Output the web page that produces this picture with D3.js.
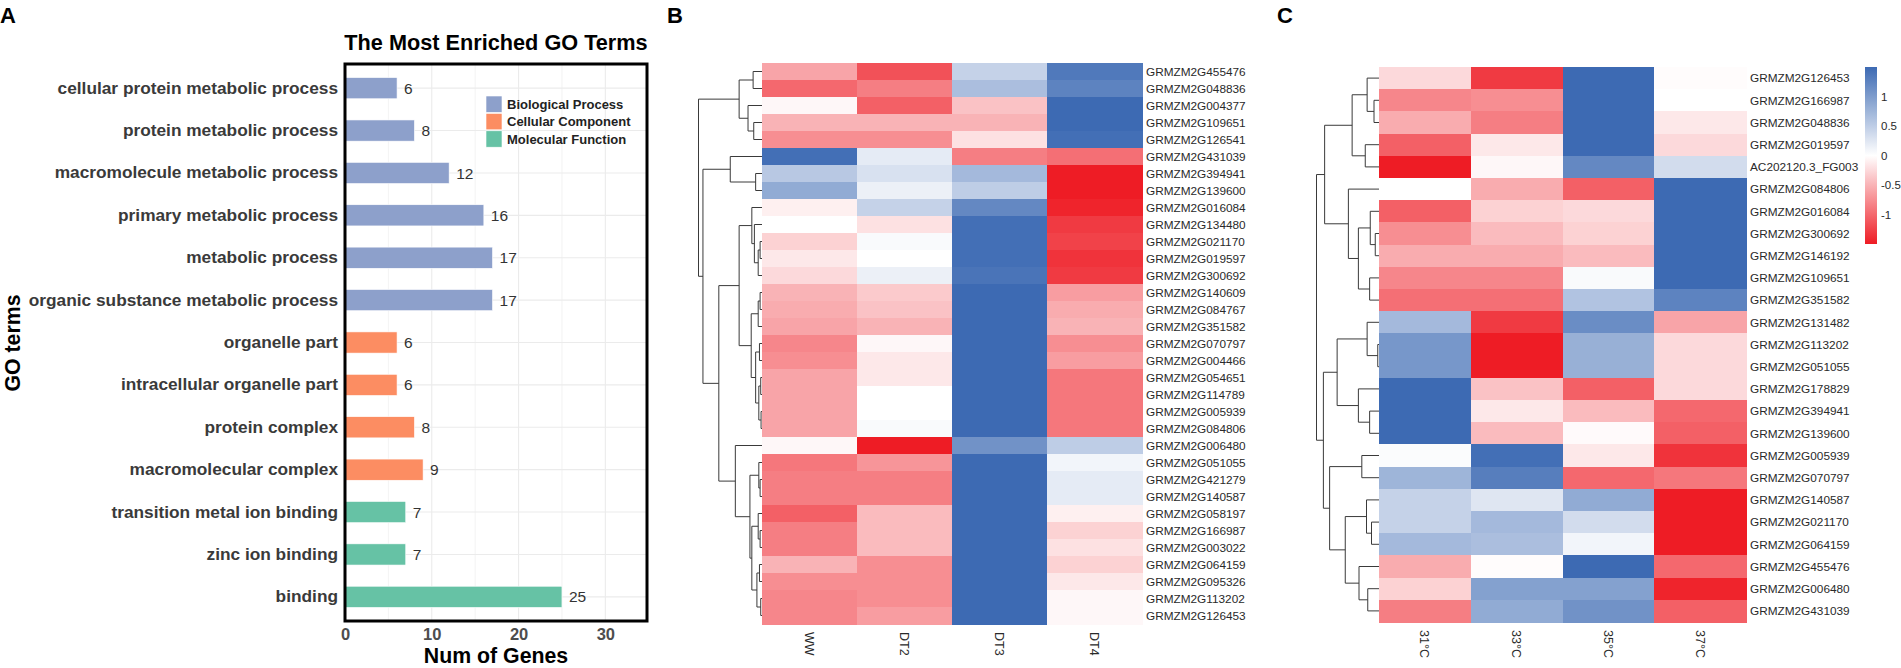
<!DOCTYPE html>
<html lang="en">
<head>
<meta charset="UTF-8">
<title>GO terms and expression heatmaps</title>
<script src="https://cdn.jsdelivr.net/npm/d3@7"></script>
<style>
  body { margin: 0; background: #fff; }
  text { font-family: "Liberation Sans", Arial, sans-serif; }
</style>
</head>
<body>
<svg width="1901" height="668"></svg>
<script>
// ---- panel A data ----
var goTerms = ["cellular protein metabolic process", "protein metabolic process",
  "macromolecule metabolic process", "primary metabolic process", "metabolic process",
  "organic substance metabolic process", "organelle part", "intracellular organelle part",
  "protein complex", "macromolecular complex", "transition metal ion binding",
  "zinc ion binding", "binding"];
var goCounts = [6, 8, 12, 16, 17, 17, 6, 6, 8, 9, 7, 7, 25];
var goClass = ["BP", "BP", "BP", "BP", "BP", "BP", "CC", "CC", "CC", "CC", "MF", "MF", "MF"];
var classNames = ["Biological Process", "Cellular Component", "Molecular Function"];
var classKeys = ["BP", "CC", "MF"];
var classColors = ["#8DA0CB", "#FC8D62", "#66C2A5"];
var countTicks = [0, 10, 20, 30];

// ---- panel B data ----
var bGenes = ["GRMZM2G455476", "GRMZM2G048836", "GRMZM2G004377", "GRMZM2G109651", "GRMZM2G126541",
  "GRMZM2G431039", "GRMZM2G394941", "GRMZM2G139600", "GRMZM2G016084", "GRMZM2G134480",
  "GRMZM2G021170", "GRMZM2G019597", "GRMZM2G300692", "GRMZM2G140609", "GRMZM2G084767",
  "GRMZM2G351582", "GRMZM2G070797", "GRMZM2G004466", "GRMZM2G054651", "GRMZM2G114789",
  "GRMZM2G005939", "GRMZM2G084806", "GRMZM2G006480", "GRMZM2G051055", "GRMZM2G421279",
  "GRMZM2G140587", "GRMZM2G058197", "GRMZM2G166987", "GRMZM2G003022", "GRMZM2G064159",
  "GRMZM2G095326", "GRMZM2G113202", "GRMZM2G126453"];
var bConds = ["WW", "DT2", "DT3", "DT4"];
var bWW  = [-0.6, -1.0, -0.05, -0.5, -0.75, 1.45, 0.55, 0.85, -0.1, 0, -0.3, -0.15, -0.25, -0.5, -0.55, -0.6,
  -0.8, -0.75, -0.6, -0.6, -0.6, -0.6, -0.05, -0.9, -0.85, -0.85, -1.05, -0.85, -0.85, -0.5, -0.75, -0.8, -0.8];
var bDT2 = [-1.15, -0.85, -1.05, -0.5, -0.75, 0.2, 0.3, 0.15, 0.45, -0.2, 0.05, 0, 0.15, -0.35, -0.4, -0.5,
  -0.05, -0.15, -0.15, 0, 0, 0.05, -1.5, -0.7, -0.85, -0.85, -0.45, -0.45, -0.45, -0.75, -0.75, -0.75, -0.65];
var bDT3 = [0.45, 0.65, -0.4, -0.5, -0.2, -0.85, 0.7, 0.5, 1.2, 1.45, 1.45, 1.45, 1.4, 1.5, 1.5, 1.5,
  1.5, 1.5, 1.5, 1.5, 1.5, 1.5, 1.1, 1.5, 1.5, 1.5, 1.5, 1.5, 1.5, 1.5, 1.5, 1.5, 1.5];
var bDT4 = [1.35, 1.25, 1.5, 1.5, 1.45, -0.95, -1.5, -1.5, -1.45, -1.3, -1.25, -1.35, -1.3, -0.65, -0.55, -0.5,
  -0.75, -0.65, -0.9, -0.9, -0.9, -0.9, 0.5, 0.1, 0.2, 0.2, -0.1, -0.3, -0.2, -0.3, -0.15, -0.05, -0.05];
// dendrogram: [height, left, right], leaves are row indexes
var bTree = [10,
  [3.6, [1.4, 0, 1], [2.2, 2, [1.3, 3, 4]]],
  [9.3,
    [5.0, 5, [1.0, 6, 7]],
    [6.8,
      [3.6,
        [1.6, 8, [1.2, 9, [0.6, [0.3, 10, 11], 12]]],
        [1.7, [0.6, [0.3, 13, 14], 15], [1.0, [0.4, 16, 17], [0.5, [0.2, 18, 19], [0.15, 20, 21]]]]],
      [4.2, 22,
        [1.9, [0.5, 23, [0.3, 24, 25]],
          [1.6, [0.6, 26, [0.3, 27, 28]], [0.8, [0.4, 29, 30], [0.2, 31, 32]]]]]]]];

// ---- panel C data ----
var cGenes = ["GRMZM2G126453", "GRMZM2G166987", "GRMZM2G048836", "GRMZM2G019597", "AC202120.3_FG003",
  "GRMZM2G084806", "GRMZM2G016084", "GRMZM2G300692", "GRMZM2G146192", "GRMZM2G109651",
  "GRMZM2G351582", "GRMZM2G131482", "GRMZM2G113202", "GRMZM2G051055", "GRMZM2G178829",
  "GRMZM2G394941", "GRMZM2G139600", "GRMZM2G005939", "GRMZM2G070797", "GRMZM2G140587",
  "GRMZM2G021170", "GRMZM2G064159", "GRMZM2G455476", "GRMZM2G006480", "GRMZM2G431039"];
var cConds = ["31°C", "33°C", "35°C", "37°C"];
var c31 = [-0.25, -0.8, -0.55, -1.05, -1.5, 0, -1.05, -0.75, -0.55, -0.8, -0.95, 0.7, 1.05,
  1.05, 1.5, 1.5, 1.5, 0.03, 0.75, 0.45, 0.45, 0.7, -0.55, -0.3, -0.85];
var c33 = [-1.3, -0.75, -0.85, -0.15, -0.05, -0.55, -0.3, -0.45, -0.55, -0.8, -0.95, -1.3, -1.5,
  -1.5, -0.4, -0.15, -0.45, 1.45, 1.3, 0.25, 0.7, 0.65, -0.02, 0.95, 0.85];
var c35 = [1.5, 1.5, 1.5, 1.5, 1.2, -1.05, -0.25, -0.3, -0.45, 0.05, 0.6, 1.15, 0.8,
  0.8, -1.05, -0.45, -0.03, -0.15, -1.0, 0.85, 0.35, 0.1, 1.5, 0.95, 1.1];
var c37 = [-0.02, 0, -0.15, -0.25, 0.35, 1.5, 1.5, 1.5, 1.5, 1.5, 1.25, -0.6, -0.25,
  -0.25, -0.25, -1.0, -1.05, -1.35, -0.9, -1.5, -1.5, -1.5, -1.0, -1.45, -1.05];
var cTree = [10,
  [8.7,
    [4.3, [1.9, 0, [0.8, 1, 2]], [2.2, 3, 4]],
    [4.9, 5, [3.3, [1.4, 6, [0.6, 7, 8]], [1.5, 9, 10]]]],
  [8.9,
    [6.7, [1.9, 11, [0.2, 12, 13]], [3.3, 14, [1.5, 15, 16]]],
    [7.9, [2.75, 17, 18], [5.4, [2.0, 19, [1.2, 20, 21]], [3.2, 22, [1.8, 23, 24]]]]]];
var legendTicks = [-1, -0.5, 0, 0.5, 1];

var svg = d3.select("svg");
var color = d3.scaleLinear().domain([-1.5, 0, 1.5]).range(["#EE1C25", "#FFFFFF", "#3D6AB3"]);

function panelLetter(x, s) {
  svg.append("text").attr("x", x).attr("y", 23).attr("font-size", 22)
    .attr("font-weight", "bold").text(s);
}
panelLetter(0, "A");
panelLetter(667, "B");
panelLetter(1277, "C");

// ================= panel A =================
var ax = d3.scaleLinear().domain([0, 34.8]).range([345, 647]);
var ay = d3.scaleBand().domain(goTerms).range([64, 621]).paddingInner(0.5).paddingOuter(0.32);
var classColor = d3.scaleOrdinal().domain(classKeys).range(classColors);
var gA = svg.append("g");

gA.selectAll(".vgrid").data(d3.range(0, 35, 5)).enter().append("line")
  .attr("x1", d => ax(d)).attr("x2", d => ax(d)).attr("y1", 64).attr("y2", 621)
  .attr("stroke", "#EBEBEB").attr("stroke-width", d => d % 10 === 0 ? 1.1 : 0.6);
gA.selectAll(".hgrid").data(goTerms).enter().append("line")
  .attr("x1", ax(0)).attr("x2", 647)
  .attr("y1", d => ay(d) + ay.bandwidth() / 2).attr("y2", d => ay(d) + ay.bandwidth() / 2)
  .attr("stroke", "#EBEBEB").attr("stroke-width", 1.1);

gA.selectAll(".bar").data(goTerms).enter().append("rect")
  .attr("x", ax(0)).attr("y", d => ay(d))
  .attr("width", (d, i) => ax(goCounts[i]) - ax(0)).attr("height", ay.bandwidth())
  .attr("fill", (d, i) => classColor(goClass[i]))
  .attr("stroke", "#fff").attr("stroke-width", 0.6);

gA.selectAll(".val").data(goTerms).enter().append("text")
  .attr("x", (d, i) => ax(goCounts[i]) + 7).attr("y", d => ay(d) + ay.bandwidth() / 2)
  .attr("dy", "0.36em").attr("font-size", 15.5).attr("fill", "#333").text((d, i) => goCounts[i]);

var yAxisA = gA.append("g").attr("transform", "translate(" + ax(0) + ",0)")
  .call(d3.axisLeft(ay).tickSize(0).tickPadding(7));
yAxisA.select(".domain").remove();
yAxisA.selectAll("text").attr("font-size", 17.3).attr("font-weight", "bold").attr("fill", "#3a3a3a")
  .attr("font-family", "Liberation Sans, Arial, sans-serif");

var xAxisA = gA.append("g").attr("transform", "translate(0,621)")
  .call(d3.axisBottom(ax).tickValues(countTicks).tickSize(0).tickPadding(7));
xAxisA.select(".domain").remove();
xAxisA.selectAll("text").attr("font-size", 16.5).attr("font-weight", "bold").attr("fill", "#4d4d4d")
  .attr("font-family", "Liberation Sans, Arial, sans-serif");

gA.append("rect").attr("x", 345).attr("y", 64).attr("width", 302).attr("height", 557)
  .attr("fill", "none").attr("stroke", "#000").attr("stroke-width", 3);

gA.append("text").attr("x", 496).attr("y", 50).attr("text-anchor", "middle")
  .attr("font-size", 21.7).attr("font-weight", "bold").text("The Most Enriched GO Terms");
gA.append("text").attr("x", 496).attr("y", 663).attr("text-anchor", "middle")
  .attr("font-size", 21.3).attr("font-weight", "bold").text("Num of Genes");
gA.append("text").attr("transform", "translate(20,343) rotate(-90)").attr("text-anchor", "middle")
  .attr("font-size", 21.3).attr("font-weight", "bold").text("GO terms");

var leg = gA.append("g").selectAll("g").data(classKeys).enter().append("g")
  .attr("transform", (d, i) => "translate(486," + (96 + i * 17.4) + ")");
leg.append("rect").attr("width", 16).attr("height", 16.4).attr("fill", d => classColor(d))
  .attr("stroke", "#fff").attr("stroke-width", 0.6);
leg.append("text").attr("x", 21).attr("y", 8.2).attr("dy", "0.36em").attr("font-size", 13)
  .attr("font-weight", "bold").attr("fill", "#222").text((d, i) => classNames[i]);

// ================= heatmaps =================
function drawTree(g, tree, yScale, genes, hScale) {
  var root = d3.hierarchy(tree, d => Array.isArray(d) ? d.slice(1) : null);
  root.eachAfter(function (n) {
    if (!n.children) {
      n.px = hScale(0);
      n.py = yScale(genes[n.data]) + yScale.bandwidth() / 2;
    } else {
      n.px = hScale(n.data[0]);
      n.py = d3.mean(n.children, c => c.py);
    }
  });
  g.selectAll("path").data(root.descendants().filter(n => n.children)).enter().append("path")
    .attr("d", function (n) {
      var a = n.children[0], b = n.children[1];
      return "M" + a.px + "," + a.py + "H" + n.px + "V" + b.py + "H" + b.px;
    })
    .attr("fill", "none").attr("stroke", "#3a3a3a").attr("stroke-width", 1);
}

function drawHeatmap(opt) {
  var g = svg.append("g");
  var x = d3.scaleBand().domain(opt.conds).range(opt.xr);
  var y = d3.scaleBand().domain(opt.genes).range(opt.yr);
  var cells = [];
  opt.cols.forEach(function (col, j) {
    col.forEach(function (v, i) { cells.push({ gene: opt.genes[i], cond: opt.conds[j], v: v }); });
  });
  g.selectAll("rect").data(cells).enter().append("rect")
    .attr("x", d => x(d.cond)).attr("y", d => y(d.gene))
    .attr("width", x.bandwidth() + 0.5).attr("height", y.bandwidth() + 0.5)
    .attr("fill", d => color(d.v)).attr("shape-rendering", "crispEdges");
  g.selectAll(".gene").data(opt.genes).enter().append("text")
    .attr("x", opt.xr[1] + 4).attr("y", d => y(d) + y.bandwidth() / 2).attr("dy", "0.36em")
    .attr("font-size", 11.8).attr("fill", "#2a2a2a").text(d => d);
  g.selectAll(".cond").data(opt.conds).enter().append("text")
    .attr("transform", d => "translate(" + (x(d) + x.bandwidth() / 2) + "," + (opt.yr[1] + 8) + ") rotate(90)")
    .attr("dy", "0.36em").attr("font-size", 12.5).attr("fill", "#2a2a2a").text(d => d);
  var h = d3.scaleLinear().domain([0, 10]).range([opt.xr[0], opt.treeLeft]);
  drawTree(g.append("g"), opt.tree, y, opt.genes, h);
}

drawHeatmap({ genes: bGenes, conds: bConds, cols: [bWW, bDT2, bDT3, bDT4],
  xr: [762, 1142], yr: [63, 624], tree: bTree, treeLeft: 698.5 });
drawHeatmap({ genes: cGenes, conds: cConds, cols: [c31, c33, c35, c37],
  xr: [1379, 1746], yr: [67, 622], tree: cTree, treeLeft: 1316.5 });

// colour key for panel C
var cb = d3.scaleLinear().domain([-1.5, 1.5]).range([244, 67]);
var grad = svg.append("defs").append("linearGradient").attr("id", "key")
  .attr("x1", 0).attr("y1", 1).attr("x2", 0).attr("y2", 0);
grad.selectAll("stop").data(d3.range(-1.5, 1.51, 0.25)).enter().append("stop")
  .attr("offset", d => (d + 1.5) / 3).attr("stop-color", d => color(d));
svg.append("rect").attr("x", 1865).attr("y", cb(1.5)).attr("width", 12)
  .attr("height", cb(-1.5) - cb(1.5)).attr("fill", "url(#key)");
svg.selectAll(".keytick").data(legendTicks).enter().append("text")
  .attr("x", 1881).attr("y", d => cb(d)).attr("dy", "0.36em").attr("font-size", 11.5)
  .attr("fill", "#2a2a2a").text(d => d);
</script>
</body>
</html>
